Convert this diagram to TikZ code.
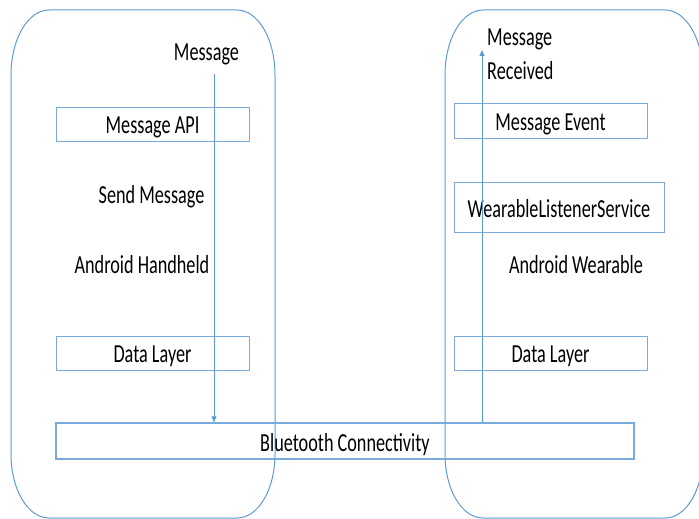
\documentclass[tikz,border=0pt]{standalone}
\usepackage{fontspec}
\setmainfont{Carlito}[FakeStretch=0.7]
\usetikzlibrary{arrows.meta}
\definecolor{lineblue}{RGB}{91,155,213}
\definecolor{boxblue}{RGB}{120,170,220}

\begin{document}
\begin{tikzpicture}[x=1pt, y=-1pt, font=\fontsize{26}{30}\selectfont,
    layer/.style={draw=boxblue, line width=1pt, inner sep=0pt},
    label/.style={anchor=base, inner sep=0pt},
    flow/.style={draw=lineblue, line width=0.9pt, -{Triangle[length=6pt,width=5pt]}}]
        \useasboundingbox (0,0) rectangle (699,519);

        % device outlines
        \draw[lineblue, line width=1pt] (49,10) -- (237,10) .. controls (258,10) and (275,39) .. (275,75)
            -- (275,454) .. controls (275,490) and (258,518) .. (237,518) -- (49,518)
            .. controls (28,518) and (11,490) .. (11,454) -- (11,75) .. controls (11,39) and (28,10) .. (49,10) -- cycle;
        \draw[lineblue, line width=1pt] (483,10) -- (665,10) .. controls (686,10) and (703,39) .. (703,75)
            -- (703,454) .. controls (703,490) and (686,518) .. (665,518) -- (483,518)
            .. controls (462,518) and (445,490) .. (445,454) -- (445,75) .. controls (445,39) and (462,10) .. (483,10) -- cycle;

        % handheld side
        \node[layer, minimum width=193pt, minimum height=34pt] (api) at (152.5,124.5) {};
        \node[label] at (152.5,133) {Message API};
        \node[layer, minimum width=193pt, minimum height=34pt] (dlh) at (152.5,353) {};
        \node[label] at (152.5,362) {Data Layer};
        \node[label] (msg) at (206.5,60) {Message};
        \node[label] (send) at (151.5,203) {Send Message};
        \node[label] (hand) at (142,273) {Android Handheld};

        % wearable side
        \node[layer, minimum width=193pt, minimum height=35pt] (evt) at (550.5,120.5) {};
        \node[label] at (550.5,130) {Message Event};
        \node[layer, minimum width=210pt, minimum height=50pt] (wls) at (559,207) {};
        \node[label] at (559,217) {WearableListenerService};
        \node[layer, minimum width=193pt, minimum height=34pt] (dlw) at (550.5,353) {};
        \node[label] at (550.5,362) {Data Layer};
        \node[label, align=left, anchor=base west] (recv) at (487,80) {Message\\[5pt]Received};
        \node[label] (wear) at (576,273) {Android Wearable};

        % link
        \node[layer, line width=1.4pt, minimum width=578pt, minimum height=36pt] (bt) at (345,441) {};
        \node[label] at (345,451) {Bluetooth Connectivity};

        \coordinate (sendtop) at (214,74);
        \coordinate (recvtop) at (482,50);
        \draw[flow] (sendtop) -- (sendtop |- bt.north);
        \draw[flow] (recvtop |- bt.north) -- (recvtop);
\end{tikzpicture}
\end{document}
